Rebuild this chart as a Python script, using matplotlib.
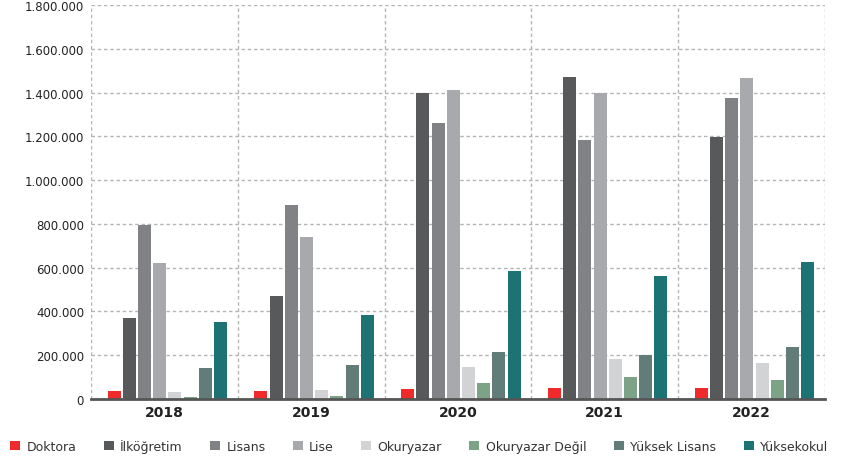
import matplotlib
matplotlib.use("Agg")
import matplotlib.pyplot as plt
import numpy as np
from matplotlib.ticker import FuncFormatter, FixedLocator

years = ["2018", "2019", "2020", "2021", "2022"]
series_names = ["Doktora", "İlköğretim", "Lisans", "Lise", "Okuryazar",
                "Okuryazar Değil", "Yüksek Lisans", "Yüksekokul"]
doktora = [36000, 36000, 46000, 51000, 51000]
ilkogretim = [371000, 471000, 1400000, 1471000, 1197000]
lisans = [794000, 888000, 1261000, 1184000, 1377000]
lise = [619000, 740000, 1413000, 1400000, 1466000]
okuryazar = [31000, 41000, 148000, 183000, 163000]
okuryazar_degil = [10000, 15000, 71000, 102000, 87000]
yuksek_lisans = [142000, 153000, 216000, 203000, 238000]
yuksekokul = [350000, 384000, 587000, 560000, 628000]
yticks = [0, 200000, 400000, 600000, 800000, 1000000, 1200000, 1400000, 1600000, 1800000]

all_series = [doktora, ilkogretim, lisans, lise, okuryazar, okuryazar_degil,
              yuksek_lisans, yuksekokul]
colors = ["#EE2A2A", "#58595B", "#808285", "#A7A9AC", "#D1D3D4", "#7DA386",
          "#627C7A", "#1D7373"]

plt.rcParams['font.family'] = ['DejaVu Sans']
fig = plt.figure(figsize=(8.5, 4.64), dpi=100)
ax = fig.add_axes([0.107, 0.138, 0.8636, 0.849])

x = np.arange(len(years))
pitch = 0.1035
width = 0.0886
n = len(all_series)
for i, (vals, c, name) in enumerate(zip(all_series, colors, series_names)):
    offs = (i - (n - 1) / 2) * pitch + 0.02
    ax.bar(x + offs, vals, width=width, color=c, label=name, zorder=3)

ax.set_xlim(-0.5, len(years) - 0.5)
ax.set_ylim(0, 1800000)
ax.yaxis.set_major_locator(FixedLocator(yticks))
ax.yaxis.set_major_formatter(FuncFormatter(lambda v, p: f"{int(v):,}".replace(",", ".")))
ax.set_xticks(x)
ax.set_xticklabels(years, fontsize=10, fontweight='bold', color='#222222')
ax.xaxis.set_minor_locator(FixedLocator(np.arange(-0.5, len(years), 1.0)))
ax.tick_params(axis='x', which='both', length=0, pad=4)
ax.tick_params(axis='y', length=0, pad=5, labelsize=8.5, labelcolor='#222222')
ax.grid(axis='y', which='major', linestyle=(0, (2.5, 2)), color='#b5b5b5', linewidth=1, zorder=0)
ax.grid(axis='x', which='minor', linestyle=(0, (2.5, 2)), color='#b5b5b5', linewidth=1, zorder=0)
ax.grid(axis='x', which='major', visible=False)
for s in ['top', 'right', 'left']:
    ax.spines[s].set_visible(False)
ax.spines['bottom'].set_color('#555555')
ax.spines['bottom'].set_linewidth(2)
ax.spines['bottom'].set_zorder(4)

leg = fig.legend(loc='lower left', bbox_to_anchor=(0.0, 0.0), ncol=8, frameon=False,
                 fontsize=9, handlelength=0.8, handleheight=0.8, handletextpad=0.5,
                 columnspacing=2.2, borderaxespad=0.7, borderpad=0.1)
for t in leg.get_texts():
    t.set_color('#333333')

fig.savefig("out.png", dpi=100)
